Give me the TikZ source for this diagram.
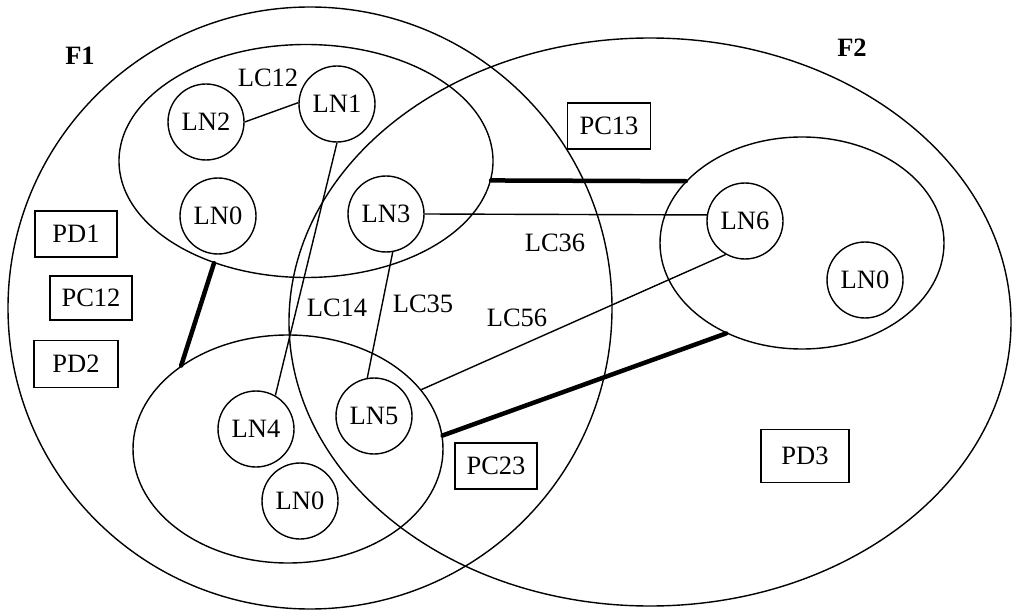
\documentclass[tikz,border=0pt]{standalone}
\usepackage{fontspec}
\setmainfont{Liberation Serif}
\usetikzlibrary{shapes.geometric}
\begin{document}
\begin{tikzpicture}[x=1pt,y=-1pt,
  thin line/.style={line width=1.4pt},
  thick link/.style={line width=4.5pt, line cap=round},
  region/.style={ellipse, draw, thin line, inner sep=0pt},
  ln/.style={circle, draw, thin line, minimum size=76pt, inner sep=0pt},
  box/.style={rectangle, draw, thin line, inner sep=0pt},
  lbl/.style={inner sep=0pt},
  every node/.append style={font=\fontsize{26.5}{31}\selectfont}]
\useasboundingbox (0,0) rectangle (1014,612);

% outer domains
\node[region, minimum width=604pt, minimum height=602pt] (F1) at (310,308) {};
\node[region, minimum width=722pt, minimum height=568pt] (F2) at (650,322) {};
\node[lbl, font=\fontsize{26.5}{31}\selectfont\bfseries] (tF1) at (80,56) {F1};
\node[lbl, font=\fontsize{26.5}{31}\selectfont\bfseries] (tF2) at (852,48) {F2};

% inner domains
\node[region, minimum width=374pt, minimum height=233pt] (E1) at (306,161) {};
\node[region, minimum width=310pt, minimum height=228pt] (E3) at (288,449) {};
\node[region, minimum width=284pt, minimum height=212pt] (E4) at (802,243) {};

% local nodes
\node[ln] (LN2) at (206,122) {LN2};
\node[ln] (LN1) at (337,104) {LN1};
\node[ln] (LN0a) at (218,216) {LN0};
\node[ln] (LN3) at (386,214) {LN3};
\node[ln] (LN6) at (745,221) {LN6};
\node[ln] (LN0b) at (865,280) {LN0};
\node[ln] (LN4) at (256,429) {LN4};
\node[ln] (LN5) at (374,416) {LN5};
\node[ln] (LN0c) at (300,501) {LN0};

% boxes
\node[box, minimum width=82pt, minimum height=46pt] (PD1) at (76,234) {PD1};
\node[box, minimum width=82pt, minimum height=44pt] (PC12) at (91,298) {PC12};
\node[box, minimum width=84pt, minimum height=47pt] (PD2) at (76,364) {PD2};
\node[box, minimum width=83pt, minimum height=46pt] (PC13) at (609,126) {PC13};
\node[box, minimum width=82pt, minimum height=46pt] (PC23) at (496,466) {PC23};
\node[box, minimum width=88pt, minimum height=53pt] (PD3) at (805,456) {PD3};

% logical links
\draw[thin line] (LN2.0) -- (LN1.178);
\draw[thin line] (LN1.-90) -- (LN4.60);
\draw[thin line] (LN3.-80) -- (LN5.100);
\draw[thin line] (LN3.0) -- (LN6.171);
\draw[thin line] (E3.24) -- (LN6.-120);

% physical links
\draw[thick link] (E1.228) -- (E3.142);
\draw[thick link] (E1.-6) -- (E4.152);
\draw[thick link] (E3.5) -- (E4.-130);

% link labels
\node[lbl] (tLC12) at (268,78) {LC12};
\node[lbl] (tLC14) at (337,308) {LC14};
\node[lbl] (tLC35) at (423,304) {LC35};
\node[lbl] (tLC36) at (555,243) {LC36};
\node[lbl] (tLC56) at (517,318) {LC56};
\end{tikzpicture}
\end{document}
